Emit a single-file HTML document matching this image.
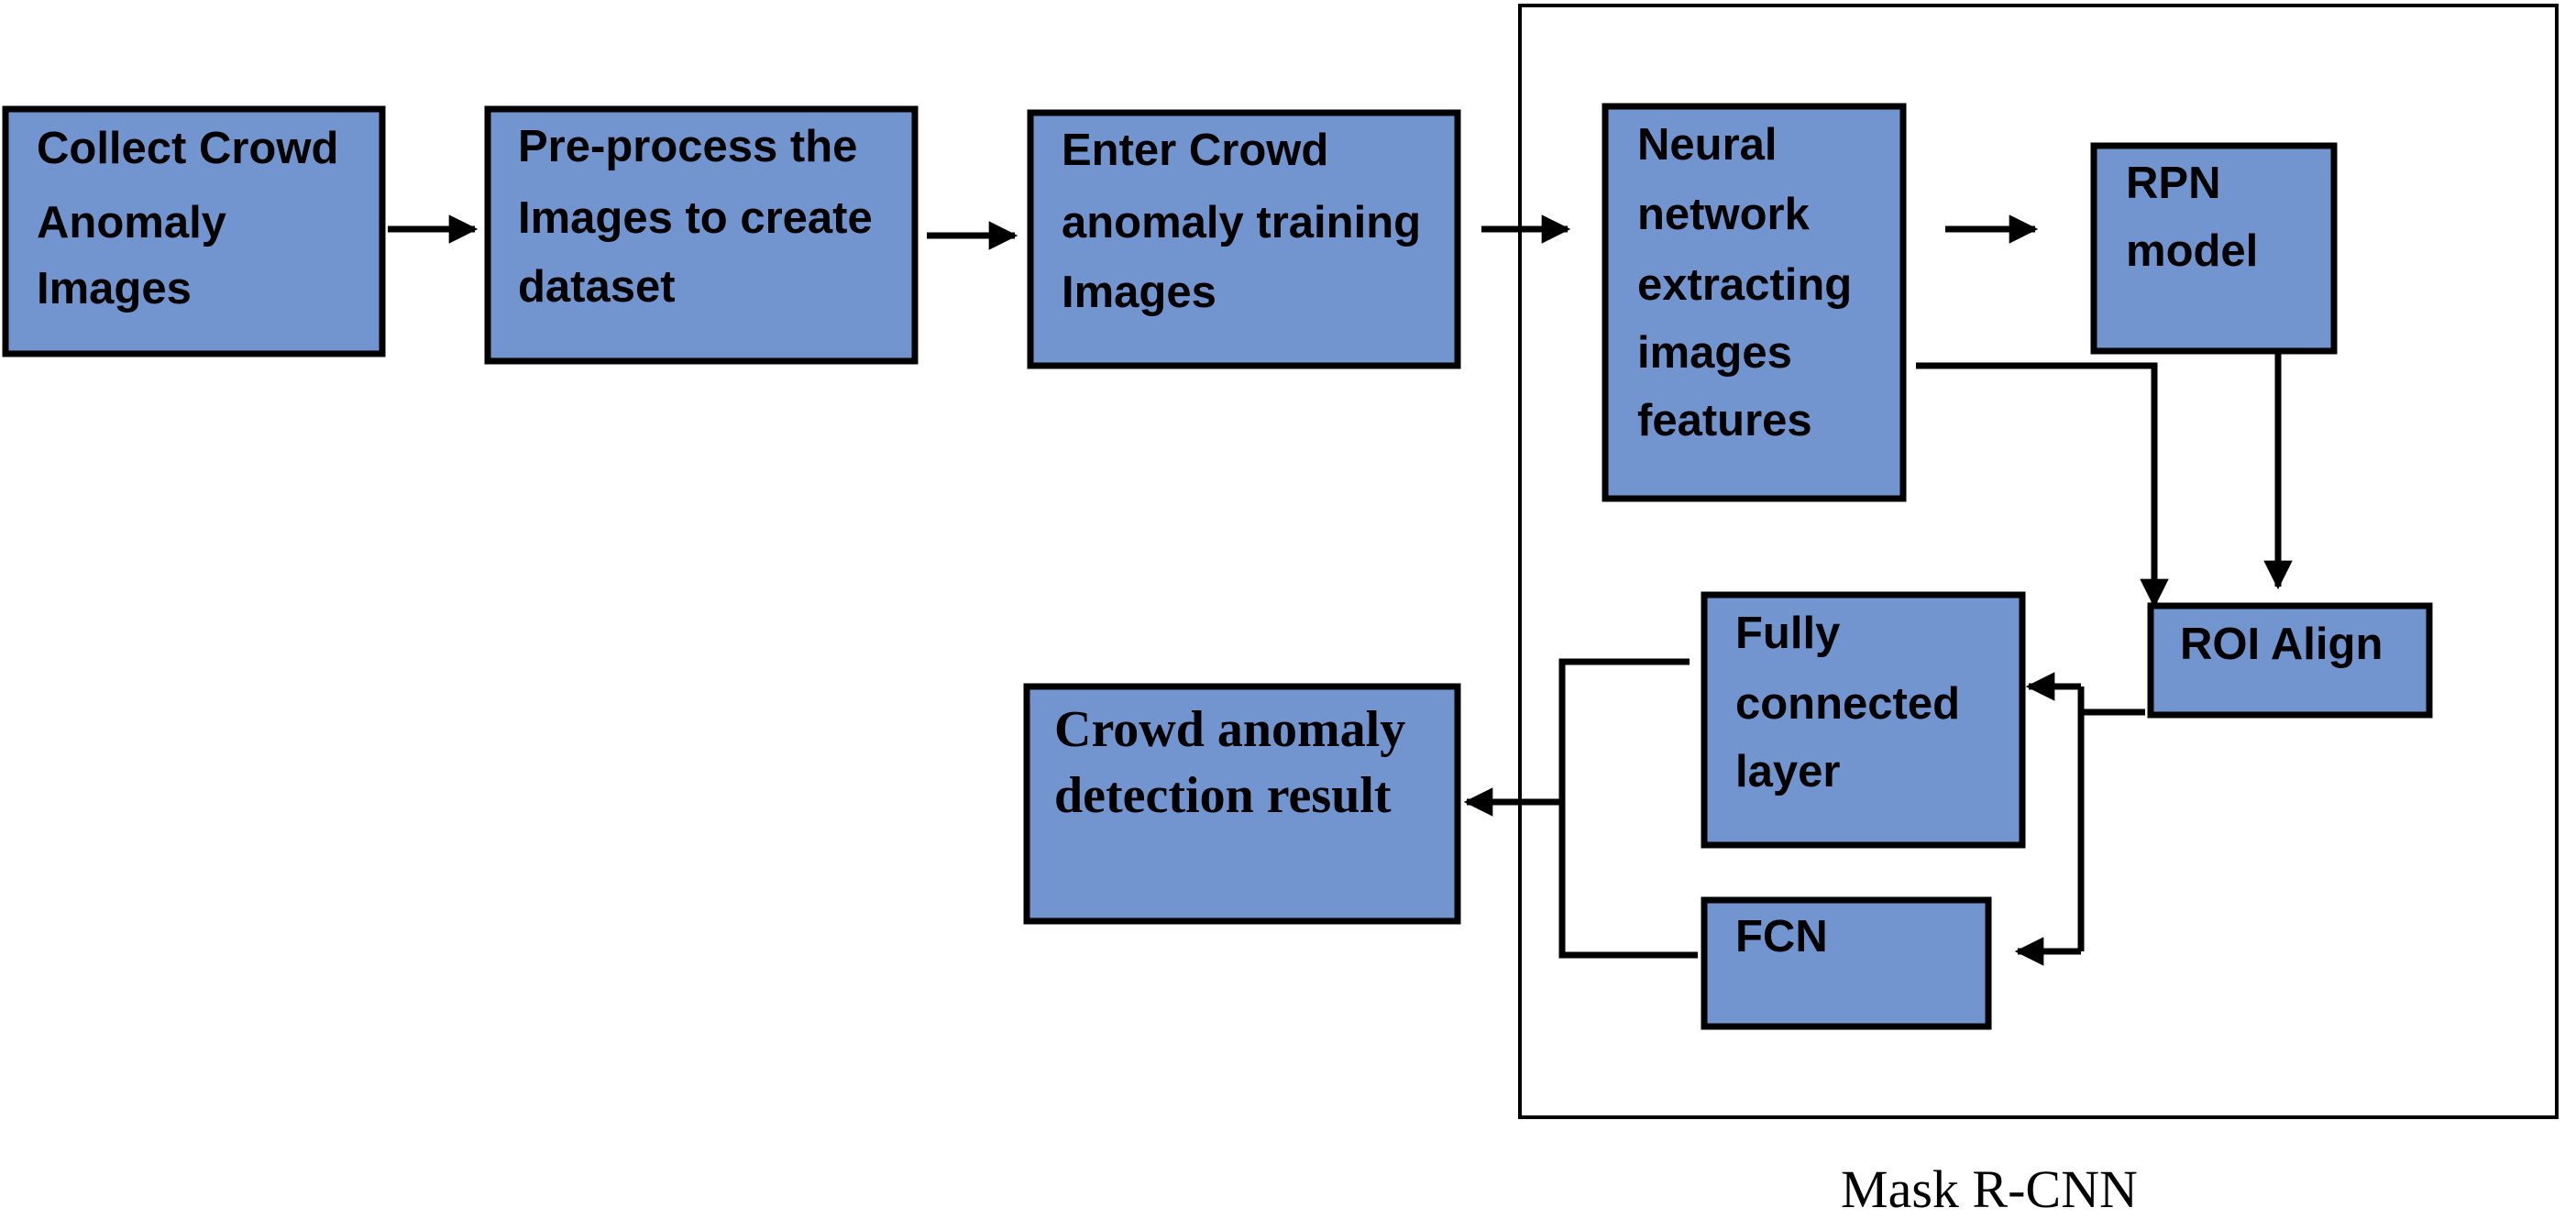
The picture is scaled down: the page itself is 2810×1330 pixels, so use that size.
<!DOCTYPE html>
<html><head><meta charset="utf-8"><style>
html,body{margin:0;padding:0;background:#fff;}
svg{display:block;}
.t{font-family:"Liberation Sans",sans-serif;font-weight:bold;font-size:49px;fill:#000;}
.s{font-family:"Liberation Serif",serif;font-weight:bold;font-size:56px;fill:#000;}
</style></head><body>
<svg width="2810" height="1330" viewBox="0 0 2810 1330" xmlns="http://www.w3.org/2000/svg">
<defs>
<marker id="a" viewBox="0 0 10 10" refX="9" refY="5" markerWidth="4.5" markerHeight="4.5" orient="auto" markerUnits="strokeWidth">
<path d="M0,0 L10,5 L0,10 z" fill="#000"/></marker>
</defs>
<g fill="#7294cf" stroke="#000" stroke-width="7">
<rect x="6" y="119" width="411" height="267"/>
<rect x="532" y="119" width="466" height="275"/>
<rect x="1124" y="123" width="466" height="276"/>
<rect x="1751" y="116" width="325" height="428"/>
<rect x="2284" y="159" width="262" height="224"/>
<rect x="2346" y="661" width="304" height="119"/>
<rect x="1859" y="649" width="347" height="273"/>
<rect x="1859" y="982" width="310" height="138"/>
<rect x="1120" y="749" width="470" height="256"/>
</g>
<rect x="1658" y="6" width="1131" height="1213" fill="none" stroke="#000" stroke-width="4"/>
<g stroke="#000" stroke-width="7" fill="none">
<line x1="423" y1="250" x2="518" y2="250" marker-end="url(#a)"/>
<line x1="1011" y1="257" x2="1107" y2="257" marker-end="url(#a)"/>
<line x1="1616" y1="250" x2="1710" y2="250" marker-end="url(#a)"/>
<line x1="2122" y1="250" x2="2220" y2="250" marker-end="url(#a)"/>
<polyline points="2090,399 2350,399 2350,660" marker-end="url(#a)"/>
<line x1="2485" y1="384" x2="2485" y2="640" marker-end="url(#a)"/>
<polyline points="2340,777 2270,777"/>
<polyline points="2270,749 2270,1038"/>
<line x1="2270" y1="749" x2="2213" y2="749" marker-end="url(#a)"/>
<line x1="2270" y1="1038" x2="2201" y2="1038" marker-end="url(#a)"/>
<polyline points="1843,722 1704,722 1704,1042 1852,1042"/>
<line x1="1704" y1="875" x2="1600" y2="875" marker-end="url(#a)"/>
</g>
<text class="t"><tspan x="40" y="178">Collect Crowd</tspan><tspan x="40" y="259">Anomaly</tspan><tspan x="40" y="331">Images</tspan></text>
<text class="t"><tspan x="565" y="176">Pre-process the</tspan><tspan x="565" y="254">Images to create</tspan><tspan x="565" y="329">dataset</tspan></text>
<text class="t"><tspan x="1158" y="180">Enter Crowd</tspan><tspan x="1158" y="259">anomaly training</tspan><tspan x="1158" y="335">Images</tspan></text>
<text class="t"><tspan x="1786" y="174">Neural</tspan><tspan x="1786" y="250">network</tspan><tspan x="1786" y="327">extracting</tspan><tspan x="1786" y="401">images</tspan><tspan x="1786" y="475">features</tspan></text>
<text class="t"><tspan x="2319" y="216">RPN</tspan><tspan x="2319" y="290">model</tspan></text>
<text class="t" x="2378" y="719">ROI Align</text>
<text class="t"><tspan x="1893" y="707">Fully</tspan><tspan x="1893" y="784">connected</tspan><tspan x="1893" y="858">layer</tspan></text>
<text class="t" x="1893" y="1038">FCN</text>
<text class="s"><tspan x="1150" y="814">Crowd anomaly</tspan><tspan x="1150" y="886">detection result</tspan></text>
<text x="2008" y="1317" font-family="Liberation Serif, serif" font-size="58" fill="#000">Mask R-CNN</text>
</svg>
</body></html>
